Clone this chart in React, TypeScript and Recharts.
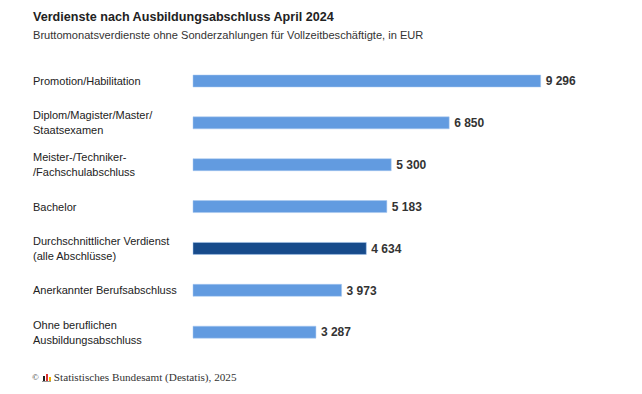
import React from 'react';
import { BarChart, Bar, XAxis, YAxis, Cell, LabelList } from 'recharts';

const categories = [
  'Promotion/Habilitation',
  'Diplom/Magister/Master/\nStaatsexamen',
  'Meister-/Techniker-\n/Fachschulabschluss',
  'Bachelor',
  'Durchschnittlicher Verdienst\n(alle Abschlüsse)',
  'Anerkannter Berufsabschluss',
  'Ohne beruflichen\nAusbildungsabschluss',
];
const earnings = [9296, 6850, 5300, 5183, 4634, 3973, 3287];
const highlightIndex = 4;

const data = categories.map((name, i) => ({ name, value: earnings[i] }));

const FONT = '"Liberation Sans", Arial, sans-serif';

function formatValue(v: number) {
  return String(v).replace(/\B(?=(\d{3})+(?!\d))/g, ' ');
}

function CategoryTick({ y, payload }: { y?: number; payload?: { value: string } }) {
  const lines = (payload?.value ?? '').split('\n');
  const start = -((lines.length - 1) * 15) / 2;
  return (
    <text x={33} y={y} fontFamily={FONT} fontSize={11} fill="#222" textAnchor="start">
      {lines.map((line, i) => (
        <tspan key={i} x={33} dy={i === 0 ? start + 4 : 15}>
          {line}
        </tspan>
      ))}
    </text>
  );
}

export default function App() {
  return (
    <div style={{ position: 'absolute', left: 0, top: 0, width: 642, height: 394, background: '#fff' }}>
      <div style={{ position: 'absolute', left: 33, top: 10, fontFamily: FONT, fontSize: 12.6, fontWeight: 'bold', color: '#222' }}>
        Verdienste nach Ausbildungsabschluss April 2024
      </div>
      <div style={{ position: 'absolute', left: 33, top: 29, fontFamily: FONT, fontSize: 11.1, color: '#333' }}>
        Bruttomonatsverdienste ohne Sonderzahlungen für Vollzeitbeschäftigte, in EUR
      </div>
      <BarChart
        width={642}
        height={394}
        data={data}
        layout="vertical"
        margin={{ top: 60, right: 75, bottom: 41, left: 0 }}
        barCategoryGap={0}
      >
        <XAxis type="number" domain={[0, 10000]} hide />
        <YAxis
          type="category"
          dataKey="name"
          width={193}
          axisLine={false}
          tickLine={false}
          tick={<CategoryTick />}
        />
        <Bar dataKey="value" barSize={12} isAnimationActive={false} stroke="#a9c8f0" strokeWidth={0.5}>
          {data.map((_, i) => (
            <Cell key={i} fill={i === highlightIndex ? '#174b8b' : '#629be0'} />
          ))}
          <LabelList
            dataKey="value"
            position="right"
            offset={5}
            formatter={(v: number) => formatValue(v)}
            style={{ fontFamily: FONT, fontSize: 12, fontWeight: 'bold', fill: '#333' }}
          />
        </Bar>
      </BarChart>
      <div
        style={{
          position: 'absolute',
          left: 32,
          top: 371,
          fontFamily: '"Liberation Serif", "Times New Roman", serif',
          fontSize: 11.2,
          color: '#333',
          display: 'flex',
          alignItems: 'center',
          gap: 3,
        }}
      >
        <span style={{ fontSize: 9 }}>©</span>
        <svg width={9} height={9} viewBox="0 0 9 9">
          <rect x={0} y={0} width={9} height={9} fill="#fff" />
          <rect x={1} y={3} width={2} height={5} fill="#222" />
          <rect x={4} y={1} width={2} height={7} fill="#d33" />
          <rect x={7} y={4} width={2} height={4} fill="#f0b400" />
          <rect x={0} y={8} width={9} height={1} fill="#999" />
        </svg>
        <span>Statistisches Bundesamt (Destatis), 2025</span>
      </div>
    </div>
  );
}
